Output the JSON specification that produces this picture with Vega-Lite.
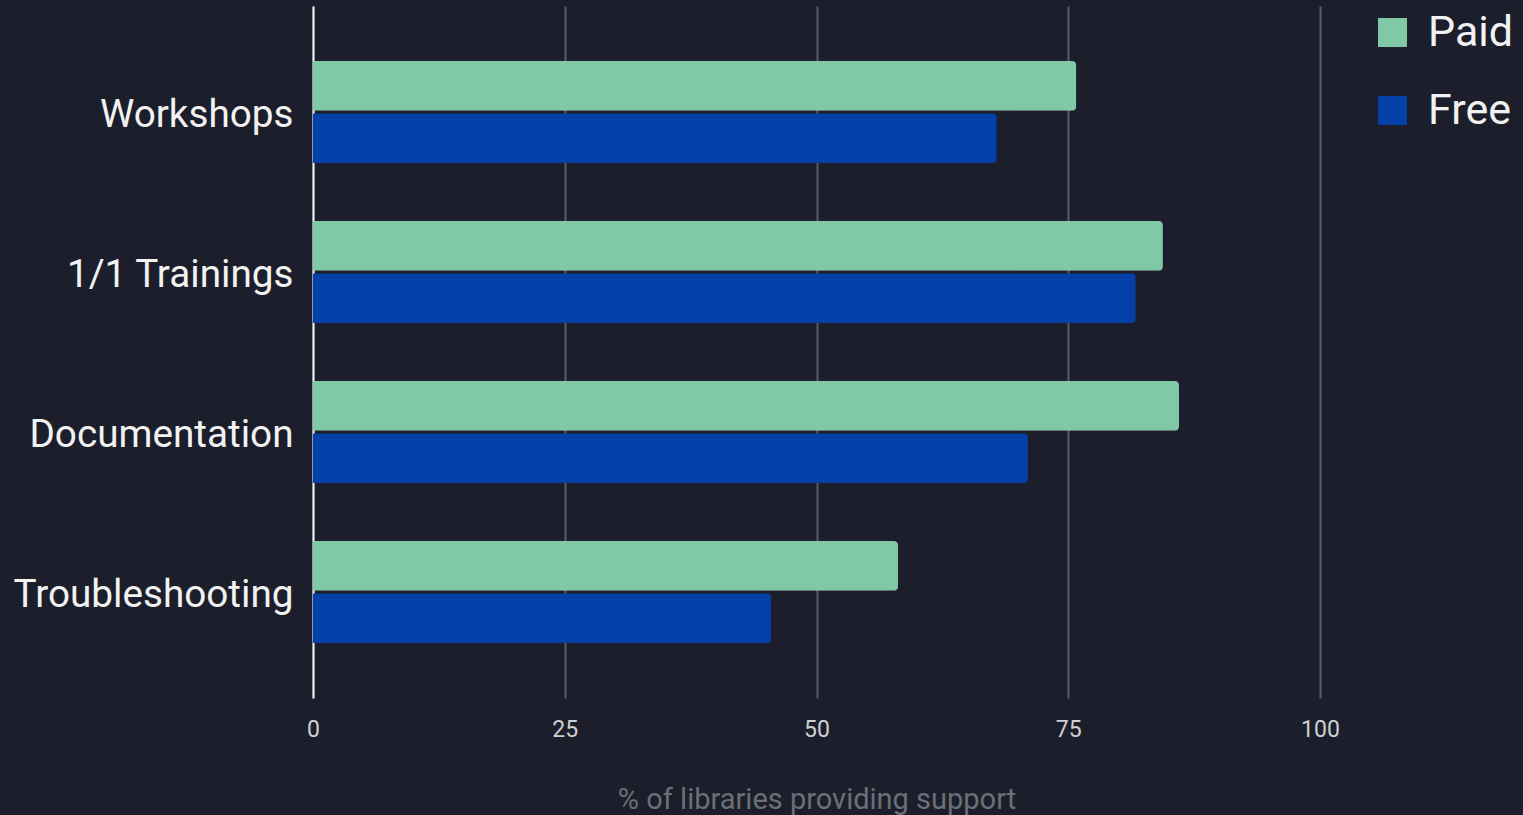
{
  "$schema": "https://vega.github.io/schema/vega-lite/v6.json",
  "autosize": "none",
  "width": 1007,
  "height": 692,
  "padding": {"left": 313, "top": 6, "right": 203, "bottom": 117},
  "background": "#1c1f2b",
  "config": {
    "font": "Roboto",
    "view": {"stroke": null}
  },
  "data": {
    "values": [
      {"support": "Workshops", "type": "Paid", "pct": 75.8},
      {"support": "Workshops", "type": "Free", "pct": 67.9},
      {"support": "1/1 Trainings", "type": "Paid", "pct": 84.4},
      {"support": "1/1 Trainings", "type": "Free", "pct": 81.7},
      {"support": "Documentation", "type": "Paid", "pct": 86.0},
      {"support": "Documentation", "type": "Free", "pct": 71.0},
      {"support": "Troubleshooting", "type": "Paid", "pct": 58.1},
      {"support": "Troubleshooting", "type": "Free", "pct": 45.5}
    ]
  },
  "mark": {"type": "bar", "cornerRadiusEnd": 4},
  "encoding": {
    "y": {
      "field": "support",
      "type": "nominal",
      "sort": ["Workshops", "1/1 Trainings", "Documentation", "Troubleshooting"],
      "scale": {"paddingInner": 0.3625, "paddingOuter": 0.34375},
      "axis": {
        "title": null,
        "labelFontSize": 38.7,
        "labelColor": "#f2f2f2",
        "labelPadding": 20,
        "labelOffset": 3,
        "ticks": false,
        "domainColor": "#f2f2f2",
        "domainWidth": 2,
        "labelLimit": 400
      }
    },
    "yOffset": {
      "field": "type",
      "type": "nominal",
      "sort": ["Paid", "Free"],
      "scale": {"paddingInner": 0.05, "paddingOuter": 0}
    },
    "x": {
      "field": "pct",
      "type": "quantitative",
      "scale": {"domain": [0, 100], "nice": false},
      "axis": {
        "values": [0, 25, 50, 75, 100],
        "title": "% of libraries providing support",
        "titleFontSize": 29,
        "titleFontWeight": "normal",
        "titleColor": "#6b6f78",
        "titlePadding": 44,
        "labelFontSize": 23,
        "labelColor": "#d0d0d0",
        "labelPadding": 20,
        "labelFlush": false,
        "ticks": false,
        "domain": false,
        "grid": true,
        "gridColor": "#5a5e69",
        "gridWidth": 2
      }
    },
    "color": {
      "field": "type",
      "type": "nominal",
      "sort": ["Paid", "Free"],
      "scale": {"domain": ["Paid", "Free"], "range": ["#81c8a6", "#0341a8"]},
      "legend": {
        "title": null,
        "orient": "none",
        "legendX": 1058,
        "legendY": 5,
        "symbolType": "square",
        "symbolSize": 841,
        "symbolStrokeWidth": 0,
        "symbolOpacity": 1,
        "labelFontSize": 43,
        "labelColor": "#f2f2f2",
        "labelOffset": 14,
        "rowPadding": 34
      }
    }
  }
}
